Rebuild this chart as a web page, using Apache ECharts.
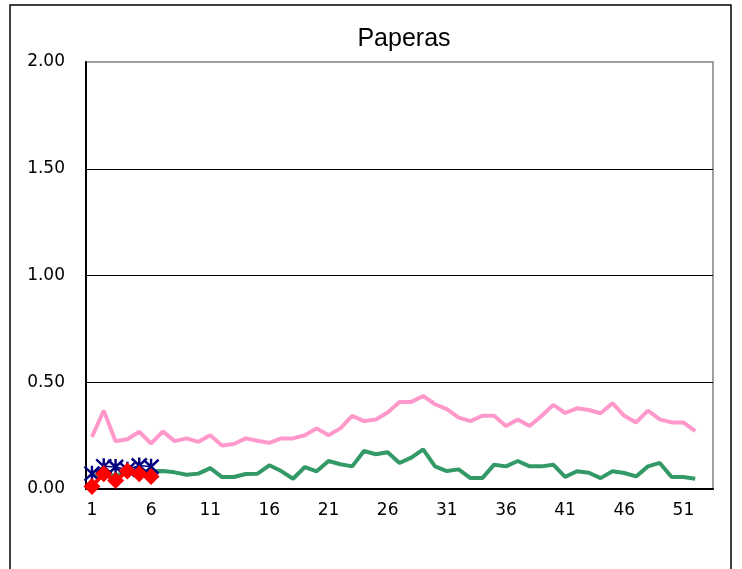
<!DOCTYPE html>
<html>
<head>
<meta charset="utf-8">
<script src="https://cdn.jsdelivr.net/npm/echarts@6/dist/echarts.min.js"></script>
<style>
html,body{margin:0;padding:0;background:#fff;}
#chart{width:742px;height:569px;}
</style>
</head>
<body>
<div id="chart"></div>
<script>
var weeks = [];
for (var i = 1; i <= 53; i++) weeks.push(String(i));

var maxHist = [0.244,0.367,0.224,0.233,0.268,0.213,0.270,0.224,0.237,0.221,
               0.252,0.204,0.211,0.237,0.226,0.216,0.237,0.237,0.252,0.284,
               0.252,0.284,0.343,0.318,0.326,0.358,0.408,0.408,0.436,0.397,
               0.374,0.334,0.318,0.343,0.343,0.295,0.326,0.295,0.342,0.394,
               0.356,0.378,0.370,0.355,0.402,0.343,0.312,0.367,0.326,0.312,
               0.312,0.271];
var meanHist = [0.064,0.064,0.066,0.072,0.078,0.083,0.084,0.078,0.067,0.072,
                0.098,0.056,0.056,0.070,0.072,0.111,0.084,0.048,0.103,0.083,
                0.131,0.116,0.106,0.178,0.163,0.172,0.122,0.147,0.186,0.106,
                0.084,0.092,0.051,0.051,0.114,0.106,0.131,0.106,0.106,0.114,
                0.057,0.083,0.076,0.051,0.083,0.075,0.059,0.106,0.122,0.056,
                0.056,0.048];
var seriesA = [0.072,0.106,0.103,0.090,0.110,0.104];
var seriesB = [0.012,0.072,0.040,0.084,0.072,0.059];
var yTicks = [0, 0.5, 1.0, 1.5, 2.0];

var chart = echarts.init(document.getElementById('chart'), null, {renderer:'canvas'});
var asterisk = 'path://M-7,-7L7,7M-7,7L7,-7M0,-8L0,8M0,8Z';
chart.setOption({
  animation: false,
  backgroundColor: '#fff',
  title: {
    text: 'Paperas', left: 399, top: 22, textAlign: 'center',
    textStyle: {fontFamily: 'Liberation Sans, Arial, sans-serif', fontSize: 25, fontWeight: 'normal', color: '#000'}
  },
  graphic: [{
    type: 'rect', silent: true, z: -1,
    shape: {x: 10, y: 5, width: 721, height: 620},
    style: {fill: 'none', stroke: '#000', lineWidth: 1.5}
  }],
  grid: {left: 86, right: 29, top: 62, bottom: 80, show: true, borderColor: '#808080', borderWidth: 1.5, backgroundColor: 'transparent'},
  xAxis: {
    type: 'category', data: weeks, boundaryGap: true,
    axisLine: {lineStyle: {color: '#000', width: 2}},
    axisTick: {interval: 4, inside: true, length: 6, lineStyle: {color: '#000', width: 1.5}},
    axisLabel: {interval: 4, margin: 13, color: '#000', fontSize: 17, fontFamily: 'DejaVu Sans, sans-serif'},
    splitLine: {show: false}
  },
  yAxis: {
    type: 'value', min: yTicks[0], max: yTicks[yTicks.length - 1], interval: 0.5,
    axisLine: {show: true, lineStyle: {color: '#000', width: 2}},
    axisTick: {show: false},
    axisLabel: {margin: 21, color: '#000', fontSize: 17, fontFamily: 'DejaVu Sans, sans-serif',
      formatter: function (v) { return v.toFixed(2); }},
    splitLine: {show: true, showMaxLine: false, lineStyle: {color: '#000', width: 1.2}}
  },
  series: [
    {name: 'max', type: 'line', data: maxHist, symbol: 'none', lineStyle: {color: '#FF99CC', width: 4}, itemStyle: {color: '#FF99CC'}, z: 2},
    {name: 'mean', type: 'line', data: meanHist, symbol: 'none', lineStyle: {color: '#339966', width: 4}, itemStyle: {color: '#339966'}, z: 3},
    {name: 'A', type: 'line', data: seriesA, symbol: asterisk, symbolSize: [15, 16], showAllSymbol: true, showSymbol: true,
      lineStyle: {color: '#000080', width: 1.5},
      itemStyle: {color: 'rgba(0,0,0,0)', borderColor: '#000080', borderWidth: 2.5}, z: 4},
    {name: 'B', type: 'line', data: seriesB, symbol: 'diamond', symbolSize: 17, showAllSymbol: true, showSymbol: true,
      lineStyle: {color: '#FF0000', width: 4},
      itemStyle: {color: '#FF0000'}, z: 5}
  ]
});
</script>
</body>
</html>
